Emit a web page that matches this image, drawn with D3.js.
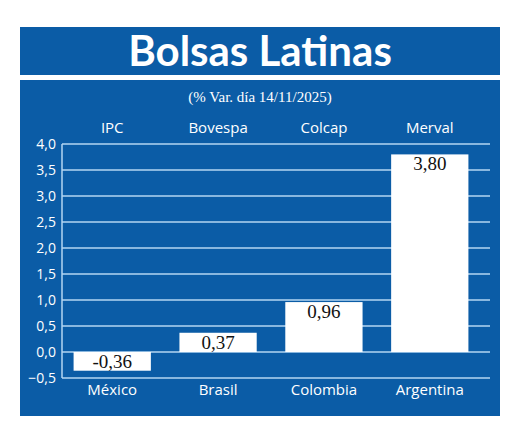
<!DOCTYPE html><html><head><meta charset="utf-8">
<script src="https://cdn.jsdelivr.net/npm/d3@7"></script>
<style>body{margin:0;background:#fff}</style></head><body>
<svg id="c" width="520" height="437"></svg>
<script>
const indices=["IPC","Bovespa","Colcap","Merval"];
const countries=["México","Brasil","Colombia","Argentina"];
const values=[-0.36,0.37,0.96,3.80];
const ticks=[-0.5,0,0.5,1,1.5,2,2.5,3,3.5,4];
const blue="#0b5ca6";
const svg=d3.select("#c");
svg.append("rect").attr("x",20).attr("y",27).attr("width",480).attr("height",48).attr("fill",blue);
svg.append("rect").attr("x",20).attr("y",80).attr("width",480).attr("height",336).attr("fill",blue);
svg.append("text").attr("x",260).attr("y",66).attr("text-anchor","middle").attr("fill","#fff")
 .attr("font-family","Lato").attr("font-weight","bold").attr("font-size",42).text("Bolsas Latinas");
svg.append("text").attr("x",260).attr("y",102).attr("text-anchor","middle").attr("fill","#fff")
 .attr("font-family","Liberation Serif").attr("font-size",15).text("(% Var. día 14/11/2025)");
const y=d3.scaleLinear().domain([-0.5,4]).range([378,144]);
const x=d3.scaleBand().domain(countries).range([63,479]).paddingInner(0.27).paddingOuter(0.1);
const g=svg.append("g");
g.selectAll(".grid").data(ticks).join("line").attr("x1",62).attr("x2",490)
 .attr("y1",d=>y(d)).attr("y2",d=>y(d)).attr("stroke","#b5d6f2").attr("stroke-width",1.5);
g.append("line").attr("x1",62).attr("x2",62).attr("y1",y(4)).attr("y2",y(-0.5)).attr("stroke","#b5d6f2").attr("stroke-width",1.5);
const ax=svg.append("g").attr("transform","translate(62,0)").call(d3.axisLeft(y).tickValues(ticks).tickSize(0).tickPadding(6)
 .tickFormat(d=>d3.format(".1f")(d).replace(".",",")));
ax.select(".domain").remove();
ax.selectAll("text").attr("fill","#fff").attr("font-family","Open Sans").attr("font-size",14);
g.selectAll(".bar").data(values).join("rect").attr("x",(d,i)=>x(countries[i])).attr("width",x.bandwidth())
 .attr("y",d=>y(Math.max(0,d))).attr("height",d=>Math.abs(y(d)-y(0))).attr("fill","#fff");
g.selectAll(".val").data(values).join("text").attr("x",(d,i)=>x(countries[i])+x.bandwidth()/2)
 .attr("y",d=>d<0?y(0)+16:y(d)+16).attr("text-anchor","middle").attr("font-family","Liberation Serif")
 .attr("font-size",19).attr("fill","#111").text(d=>d.toFixed(2).replace(".",","));
g.selectAll(".ind").data(indices).join("text").attr("x",(d,i)=>x(countries[i])+x.bandwidth()/2).attr("y",133)
 .attr("text-anchor","middle").attr("fill","#fff").attr("font-family","Open Sans").attr("font-size",15).text(d=>d);
g.selectAll(".cty").data(countries).join("text").attr("x",d=>x(d)+x.bandwidth()/2).attr("y",395)
 .attr("text-anchor","middle").attr("fill","#fff").attr("font-family","Open Sans").attr("font-size",15).text(d=>d);
</script></body></html>
